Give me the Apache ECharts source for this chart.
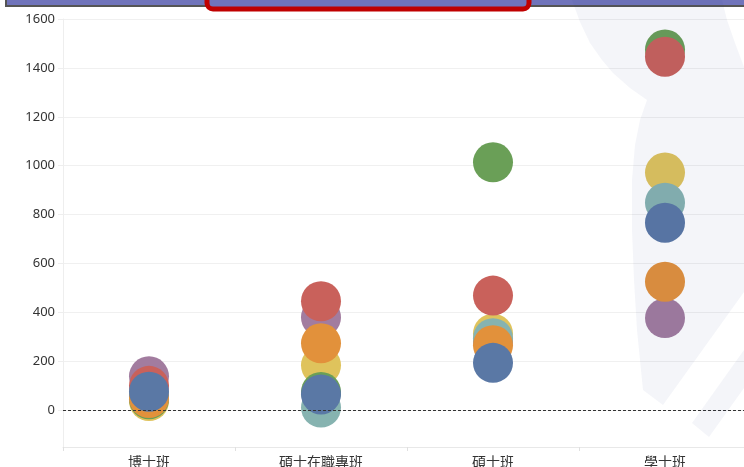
<!DOCTYPE html>
<html>
<head>
<meta charset="utf-8">
<script src="https://cdn.jsdelivr.net/npm/echarts@6/dist/echarts.min.js"></script>
<style>
  html, body { margin: 0; padding: 0; background: #fff; }
  #chart { width: 744px; height: 467px; }
</style>
</head>
<body>
<div id="chart"></div>
<script>
var categories = ['博士班', '碩士在職專班', '碩士班', '學士班'];

// 每組一個顏色，依繪製順序排列（後面的蓋在前面的上面）
var seriesNames = ['紫', '黃', '綠', '青', '紅', '橙', '藍'];
var seriesColors = ['#a27c9f', '#dfc35c', '#6a9f57', '#86b3b0', '#c9615b', '#e2913b', '#5a78a5'];
var purpleValues = [139, 380, 280, 377];
var yellowValues = [38, 184, 313, 972];
var greenValues = [45, 75, 1014, 1475];
var tealValues = [55, 11, 295, 849];
var redValues = [100, 446, 469, 1446];
var orangeValues = [50, 274, 266, 526];
var blueValues = [76, 65, 194, 767];
var allValues = [purpleValues, yellowValues, greenValues, tealValues, redValues, orangeValues, blueValues];

var yTicks = [0, 200, 400, 600, 800, 1000, 1200, 1400, 1600];

var myChart = echarts.init(document.getElementById('chart'));

var series = [];
// 0 的虛線
series.push({
  type: 'line',
  data: [],
  z: 1,
  silent: true,
  markLine: {
    silent: true,
    symbol: ['none', 'none'],
    label: { show: false },
    lineStyle: { color: '#333', type: [3, 2], width: 1 },
    data: [{ yAxis: 0 }]
  }
});
for (var i = 0; i < allValues.length; i++) {
  series.push({
    name: seriesNames[i],
    type: 'scatter',
    symbolSize: 40,
    z: 3,
    itemStyle: { color: seriesColors[i], opacity: 1 },
    data: allValues[i]
  });
}

// 背景浮水印（右側）
var wmFill = 'rgba(30,50,130,0.05)';
var graphic = [
  {
    type: 'polygon', z: 100, silent: true,
    shape: { points: [
      [572, 0], [580, 22], [590, 43], [602, 60], [613, 73], [630, 88], [647, 100],
      [640, 120], [635, 145], [632, 180], [632, 230], [634, 280], [637, 330], [641, 370], [643, 390],
      [663, 405], [744, 292], [744, 67], [735, 43], [727, 20], [722, 0]
    ] },
    style: { fill: wmFill }
  },
  {
    type: 'polygon', z: 100, silent: true,
    shape: { points: [[692, 423], [709, 437], [744, 388], [744, 350]] },
    style: { fill: wmFill }
  },
  // 上方的紫色橫條與紅框
  {
    type: 'rect', z: 50, silent: true,
    shape: { x: 6, y: -6, width: 760, height: 12 },
    style: { fill: '#7074bb', stroke: '#555', lineWidth: 2 }
  },
  {
    type: 'rect', z: 51, silent: true,
    shape: { x: 207, y: -20, width: 322, height: 29, r: 6 },
    style: { fill: '#7074bb', stroke: '#c00000', lineWidth: 5 }
  }
];

var option = {
  animation: false,
  backgroundColor: '#fff',
  grid: { left: 63, width: 688, top: 19, height: 428, outerBoundsMode: 'none', containLabel: false },
  xAxis: {
    type: 'category',
    data: categories,
    boundaryGap: true,
    axisLine: { onZero: false, lineStyle: { color: '#e8e8e8' } },
    axisTick: { show: true, length: 4, lineStyle: { color: '#e0e0e0' } },
    axisLabel: { color: '#333', fontSize: 14, margin: 8, fontFamily: 'Noto Sans CJK TC' },
    splitLine: { show: false }
  },
  yAxis: {
    type: 'value',
    min: -150,
    max: 1600,
    splitNumber: 8,
    axisLine: { show: true, lineStyle: { color: '#eeeeee' } },
    axisTick: { show: true, length: 5, lineStyle: { color: '#eeeeee' } },
    axisLabel: {
      color: '#333', fontSize: 13, margin: 8, fontFamily: 'Noto Sans',
      showMinLabel: false,
      formatter: function (v) { return yTicks.indexOf(v) >= 0 ? String(v) : ''; }
    },
    splitLine: { show: true, lineStyle: { color: '#f0f0f0' } }
  },
  series: series,
  graphic: graphic
};

myChart.setOption(option);
</script>
</body>
</html>
